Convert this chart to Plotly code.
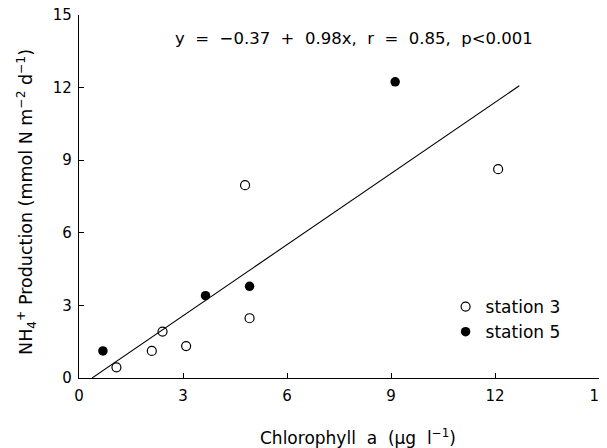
import plotly.graph_objects as go

# Station 3 (open circles)
st3_x = [1.08, 2.10, 2.41, 3.09, 4.79, 4.92, 12.09]
st3_y = [0.44, 1.12, 1.92, 1.32, 7.97, 2.47, 8.63]
# Station 5 (filled circles)
st5_x = [0.69, 3.65, 4.92, 9.12]
st5_y = [1.12, 3.40, 3.79, 12.24]

# Regression line
intercept = -0.37
slope = 0.98
fit_x = [0.38, 12.7]
fit_y = [intercept + slope * v for v in fit_x]

ticks = [0, 3, 6, 9, 12, 15]

FONT = "DejaVu Sans"

fig = go.Figure()
fig.add_trace(go.Scatter(x=fit_x, y=fit_y, mode="lines",
                         line=dict(color="black", width=1.1),
                         showlegend=False, hoverinfo="skip"))
fig.add_trace(go.Scatter(x=st3_x, y=st3_y, mode="markers", name="station 3",
                         marker=dict(symbol="circle-open", size=9,
                                     color="black", line=dict(width=1.2))))
fig.add_trace(go.Scatter(x=st5_x, y=st5_y, mode="markers", name="station 5",
                         marker=dict(symbol="circle", size=9.5, color="black")))

axis_common = dict(
    range=[0, 15], tickvals=ticks, ticks="inside", ticklen=5,
    tickcolor="black", tickwidth=1, showline=True, linecolor="black",
    linewidth=1.2, showgrid=False, zeroline=False, automargin=False,
    ticklabeloverflow="allow",
    tickfont=dict(family=FONT, size=15, color="black"),
)

# page body adds an 8px offset; plot area placed to match the reference
fig.update_layout(
    width=607, height=440,
    margin=dict(l=71, r=16, t=7, b=70),
    paper_bgcolor="white", plot_bgcolor="white",
    font=dict(family=FONT, size=15, color="black"),
    xaxis=dict(**axis_common, ticklabelstandoff=4),
    yaxis=dict(**axis_common, ticklabelstandoff=3),
    legend=dict(x=0.705, y=0.245, xanchor="left", yanchor="top",
                bgcolor="rgba(0,0,0,0)", font=dict(family=FONT, size=17),
                itemwidth=30, tracegroupgap=0),
    annotations=[
        dict(text="y  =  −0.37  +  0.98x,  r  =  0.85,  p<0.001",
             x=0.529, y=0.936, xref="paper", yref="paper",
             xanchor="center", yanchor="middle", showarrow=False,
             font=dict(family=FONT, size=16.5, color="black")),
        dict(text="Chlorophyll  a  (μg  l<sup>−1</sup>)",
             x=0.537, y=-0.163, xref="paper", yref="paper",
             xanchor="center", yanchor="middle", showarrow=False,
             font=dict(family=FONT, size=17, color="black")),
        dict(text="NH<sub>4</sub><sup>+</sup> Production (mmol N m<sup>−2</sup> d<sup>−1</sup>)",
             x=-0.10, y=0.485, xref="paper", yref="paper", textangle=-90,
             xanchor="center", yanchor="middle", showarrow=False,
             font=dict(family=FONT, size=17.5, color="black")),
    ],
)

fig.write_html("out.html")
